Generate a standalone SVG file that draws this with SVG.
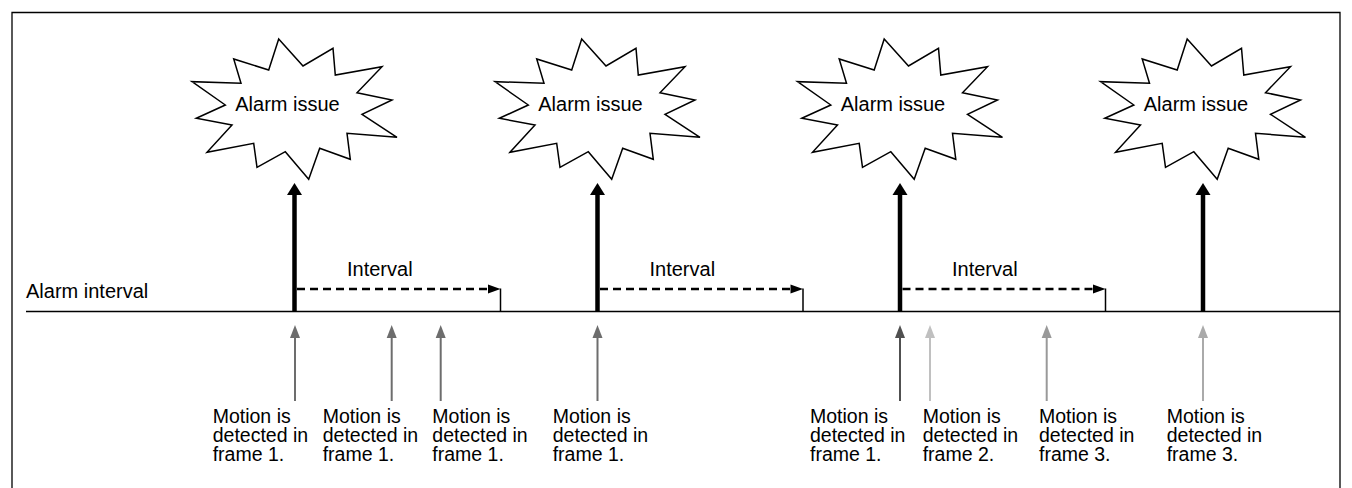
<svg xmlns="http://www.w3.org/2000/svg" width="1352" height="488" viewBox="0 0 1352 488">
<style>
text{font-family:"Liberation Sans",Arial,sans-serif;font-size:20px;fill:#000}
.lbl{font-size:19.5px}
.star{fill:#fff;stroke:#000;stroke-width:1.5;stroke-linejoin:miter}
.thick{stroke:#000;stroke-width:4.5}
.dash{stroke:#000;stroke-width:2.4;stroke-dasharray:8,5;fill:none}
.thin{stroke:#000;stroke-width:1.5;fill:none}
.mid{text-anchor:middle}
</style>
<defs>
<path id="starShape" d="M581.7,39 L606,66 L636,48.3 L638.3,75 L685,66.7 L660,92.7 L695,100 L665,114.3 L700,137.3 L650,133.3 L653.3,159.3 L622.7,148.3 L611.7,179.3 L588.3,151.7 L560,167.3 L556.7,143.3 L510,152.3 L535,125 L499.3,118.3 L528.3,105 L495,81.7 L544,83.3 L536.7,59 L571.7,70 Z"/>
</defs>
<rect width="1352" height="488" fill="#fff"/>
<path id="frame" d="M12,490 V12.5 H1340 V490" fill="none" stroke="#000" stroke-width="1.3"/>
<g id="timeline">
<line x1="26" y1="311.5" x2="1340" y2="311.5" class="thin"/>
<text x="26" y="298">Alarm interval</text>
</g>
<g id="alarm1" transform="translate(-303,0)">
<use href="#starShape" class="star"/>
<text x="590.5" y="111" class="mid">Alarm issue</text>
</g>
<g id="alarm2">
<use href="#starShape" class="star"/>
<text x="590.5" y="111" class="mid">Alarm issue</text>
</g>
<g id="alarm3" transform="translate(302.5,0)">
<use href="#starShape" class="star"/>
<text x="590.5" y="111" class="mid">Alarm issue</text>
</g>
<g id="alarm4" transform="translate(605.5,0)">
<use href="#starShape" class="star"/>
<text x="590.5" y="111" class="mid">Alarm issue</text>
</g>
<g id="connectors">
<g id="alarmArrows">
<line x1="294.5" y1="311.5" x2="294.5" y2="193" class="thick"/>
<polygon points="287,195 294.5,183 302,195"/>
<line x1="597.5" y1="311.5" x2="597.5" y2="193" class="thick"/>
<polygon points="590,195 597.5,183 605,195"/>
<line x1="900" y1="311.5" x2="900" y2="193" class="thick"/>
<polygon points="892.5,195 900,183 907.5,195"/>
<line x1="1203" y1="311.5" x2="1203" y2="193" class="thick"/>
<polygon points="1195.5,195 1203,183 1210.5,195"/>
</g>
<g id="intervals">
<line x1="297" y1="289" x2="490" y2="289" class="dash"/>
<polygon points="488,284.5 500.5,289 488,293.5"/>
<line x1="500.5" y1="288.5" x2="500.5" y2="311.5" class="thin"/>
<text x="347" y="276">Interval</text>
<line x1="600" y1="289" x2="793" y2="289" class="dash"/>
<polygon points="790.5,284.5 803,289 790.5,293.5"/>
<line x1="803" y1="288.5" x2="803" y2="311.5" class="thin"/>
<text x="649.5" y="276">Interval</text>
<line x1="902.5" y1="289" x2="1095" y2="289" class="dash"/>
<polygon points="1093,284.5 1105.5,289 1093,293.5"/>
<line x1="1105.5" y1="288.5" x2="1105.5" y2="311.5" class="thin"/>
<text x="952" y="276">Interval</text>
</g>
<g id="motionArrows" stroke-width="2">
<line x1="295" y1="401" x2="295" y2="335" stroke="#6d6d6d"/>
<polygon points="290,338 295,325 300,338" fill="#6d6d6d"/>
<line x1="391.7" y1="401" x2="391.7" y2="335" stroke="#6d6d6d"/>
<polygon points="386.7,338 391.7,325 396.7,338" fill="#6d6d6d"/>
<line x1="440.7" y1="401" x2="440.7" y2="335" stroke="#6d6d6d"/>
<polygon points="435.7,338 440.7,325 445.7,338" fill="#6d6d6d"/>
<line x1="597.5" y1="401" x2="597.5" y2="335" stroke="#6d6d6d"/>
<polygon points="592.5,338 597.5,325 602.5,338" fill="#6d6d6d"/>
<line x1="900" y1="401" x2="900" y2="335" stroke="#505050"/>
<polygon points="895,338 900,325 905,338" fill="#505050"/>
<line x1="930" y1="401" x2="930" y2="335" stroke="#c0c0c0"/>
<polygon points="925,338 930,325 935,338" fill="#c0c0c0"/>
<line x1="1046.7" y1="401" x2="1046.7" y2="335" stroke="#999"/>
<polygon points="1041.7,338 1046.7,325 1051.7,338" fill="#999"/>
<line x1="1203" y1="401" x2="1203" y2="335" stroke="#aaa"/>
<polygon points="1198,338 1203,325 1208,338" fill="#aaa"/>
</g>
</g>
<g id="label1"><text class="lbl" x="212.7" y="422.7">Motion is<tspan x="212.7" dy="19">detected in</tspan><tspan x="212.7" dy="19">frame 1.</tspan></text></g>
<g id="label2"><text class="lbl" x="322.7" y="422.7">Motion is<tspan x="322.7" dy="19">detected in</tspan><tspan x="322.7" dy="19">frame 1.</tspan></text></g>
<g id="label3"><text class="lbl" x="432.3" y="422.7">Motion is<tspan x="432.3" dy="19">detected in</tspan><tspan x="432.3" dy="19">frame 1.</tspan></text></g>
<g id="label4"><text class="lbl" x="552.7" y="422.7">Motion is<tspan x="552.7" dy="19">detected in</tspan><tspan x="552.7" dy="19">frame 1.</tspan></text></g>
<g id="label5"><text class="lbl" x="810" y="422.7">Motion is<tspan x="810" dy="19">detected in</tspan><tspan x="810" dy="19">frame 1.</tspan></text></g>
<g id="label6"><text class="lbl" x="922.7" y="422.7">Motion is<tspan x="922.7" dy="19">detected in</tspan><tspan x="922.7" dy="19">frame 2.</tspan></text></g>
<g id="label7"><text class="lbl" x="1039" y="422.7">Motion is<tspan x="1039" dy="19">detected in</tspan><tspan x="1039" dy="19">frame 3.</tspan></text></g>
<g id="label8"><text class="lbl" x="1166.7" y="422.7">Motion is<tspan x="1166.7" dy="19">detected in</tspan><tspan x="1166.7" dy="19">frame 3.</tspan></text></g>
</svg>
